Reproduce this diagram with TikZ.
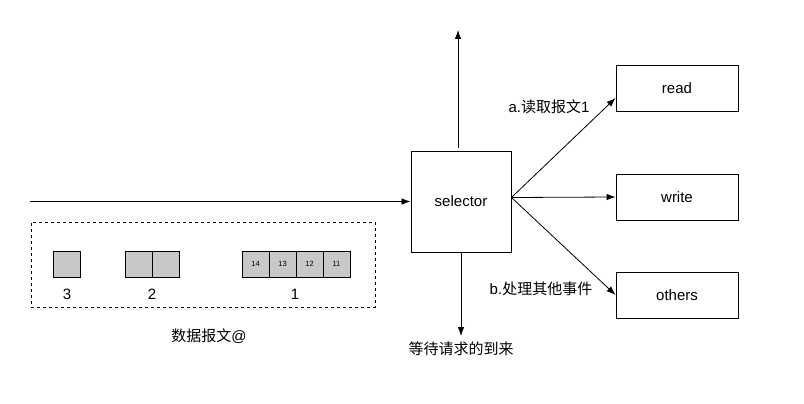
\documentclass[tikz,border=0pt]{standalone}
\usepackage{fontspec}
\setmainfont{Liberation Sans}
\newfontfamily\cjk{Noto Sans CJK SC}
\usepackage{tikz}
\usetikzlibrary{positioning,arrows.meta,calc}
\definecolor{celdagris}{RGB}{200,200,200}

\begin{document}
\begin{tikzpicture}[x=1pt, y=-1pt,
  caja/.style={draw, line width=0.9pt, fill=white, font=\fontsize{15}{17}\selectfont,
    minimum width=122pt, minimum height=46pt, inner sep=0pt},
  celda/.style={draw, line width=0.9pt, fill=celdagris, outer sep=0pt,
    minimum width=27pt, minimum height=26pt, inner sep=0pt,
    font=\fontsize{7.5}{8}\selectfont},
  etiqueta/.style={font=\fontsize{15}{17}\selectfont, inner sep=1pt},
  flecha/.style={-{Latex[length=9pt,width=6.5pt]}, line width=0.8pt}
]
\useasboundingbox (0,0) rectangle (804,404);
% Selector y destinos
\node[caja, minimum width=100pt, minimum height=101pt] (sel) at (461,201.5) {selector};
\node[caja] (read) at (677,88) {read};
\node[caja] (write) at (677,197) {write};
\node[caja] (others) at (677,295) {others};
% Entrada, salida hacia arriba y hacia abajo
\coordinate (entrada) at (30,201.5);
\coordinate (arriba) at (458,30);
\coordinate (abajo) at (461,336);
\draw[flecha] (entrada) -- (sel.west);
\draw[flecha] ($(sel.north -| arriba)+(0,-3)$) -- (arriba);
\draw[flecha] (sel.south) -- (abajo);
\node[etiqueta, below=5pt of abajo] (espera) {\cjk 等待请求的到来};
% Ramas del selector
\coordinate (origen) at ($(sel.east)+(0,-4)$);
\draw[flecha] (origen) -- ([yshift=-10pt]read.west);
\draw[flecha] (origen) -- (write.west);
\draw[flecha] (origen) -- (others.west);
\node[etiqueta] (leer) at (549,107) {a.{\cjk 读取报文}1};
\node[etiqueta] (otros) at (541,289) {b.{\cjk 处理其他事件}};
% Cola de datagramas
\node[draw, dashed, line width=0.8pt, minimum width=344pt, minimum height=85pt,
  inner sep=0pt] (cola) at (203,264.5) {};
\node[celda] (p3) at (67,264) {};
\node[celda] (p2a) at (139,264) {};
\node[celda, right=0pt of p2a] (p2b) {};
\node[celda] (p14) at (255.5,264) {14};
\node[celda, right=0pt of p14] (p13) {13};
\node[celda, right=0pt of p13] (p12) {12};
\node[celda, right=0pt of p12] (p11) {11};
\node[etiqueta] (n3) at (67,294) {3};
\node[etiqueta] (n2) at (152,294) {2};
\node[etiqueta] (n1) at (295,294) {1};
\node[etiqueta] (datos) at (209,336) {{\cjk 数据报文}@};
\end{tikzpicture}
\end{document}
